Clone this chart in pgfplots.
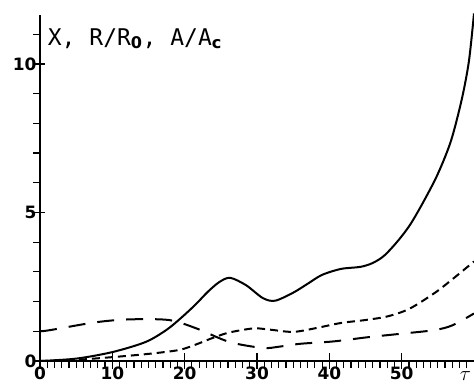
\documentclass[border=0pt]{standalone}
\usepackage{pgfplots}
\pgfplotsset{compat=1.18}
\usepackage{fontspec}
\setmainfont{DejaVu Sans}
\newfontfamily\monofont{DejaVu Sans Mono}
\begin{document}
\begin{tikzpicture}
\path[use as bounding box] (-40pt,-22pt) rectangle (434pt,361pt);
\begin{axis}[
  scale only axis, width=434pt, height=346pt,
  anchor=south west, at={(0,0)},
  xmin=0, xmax=60, ymin=0, ymax=11.65,
  axis lines*=left,
  axis line style={line width=2pt},
  clip=false,
  xtick={0,1,...,59}, xticklabels={},
  ytick={0,1,...,11}, yticklabels={},
  tick align=outside,
  major tick length=7pt,
  tick style={line width=1.2pt, black},
  extra x ticks={0,10,20,30,40,50},
  extra x tick labels={0,10,20,30,40,50},
  extra x tick style={tick align=center, major tick length=16pt, xticklabel style={yshift=6pt}},
  extra y ticks={0,5,10},
  extra y tick labels={0,5,10},
  extra y tick style={tick align=center, major tick length=10pt, yticklabel style={xshift=5pt}},
  tick label style={font=\bfseries\fontsize{17}{17}\selectfont},
]
\addplot[black, line width=2pt, smooth] coordinates {
(0,0) (5,0.08) (10,0.3) (14.6,0.64) (17.5,1.05) (19.5,1.45) (21.5,1.9) (23.2,2.33) (24.8,2.66) (26.3,2.8) (28.5,2.55)
(30.8,2.12) (32.5,2.03) (35,2.3) (37,2.6) (39,2.9) (41.6,3.1) (44.3,3.17) (46,3.3)
(47.6,3.55) (49.5,4.05) (51.2,4.6) (53.1,5.4) (55,6.3) (56.8,7.4) (58.3,8.8) (59.3,10.1) (60,11.7)
};
\addplot[black, line width=2pt, smooth, dash pattern=on 8pt off 5pt] coordinates {
(0,0) (5,0.04) (10,0.13) (15,0.24) (19.2,0.37) (21.5,0.55) (23.8,0.77) (26,0.95) (28.6,1.07)
(30,1.1) (32,1.05) (35,0.98) (38,1.1) (41.6,1.28) (45,1.38) (48,1.5) (51,1.75)
(54.5,2.28) (57,2.75) (60,3.35)
};
\addplot[black, line width=2pt, smooth, dash pattern=on 17pt off 12pt] coordinates {
(0,1.0) (1.4,1.04) (7.6,1.3) (12.2,1.4) (17.8,1.38) (21.6,1.1) (26.2,0.64) (30.8,0.44)
(33,0.48) (36,0.58) (40.6,0.66) (45.3,0.8) (50,0.92) (54.5,1.04) (57,1.2) (60,1.6)
};
\node[anchor=west, font=\monofont\fontsize{23}{23}\selectfont] at (axis cs:0.6,10.85)
  {X, R/R$_{\mathbf{0}}$, A/A$_{\mathbf{c}}$};
\node[font=\fontsize{22}{22}\selectfont] at (axis cs:58.8,-0.5) {$\tau$};
\end{axis}
\end{tikzpicture}
\end{document}
